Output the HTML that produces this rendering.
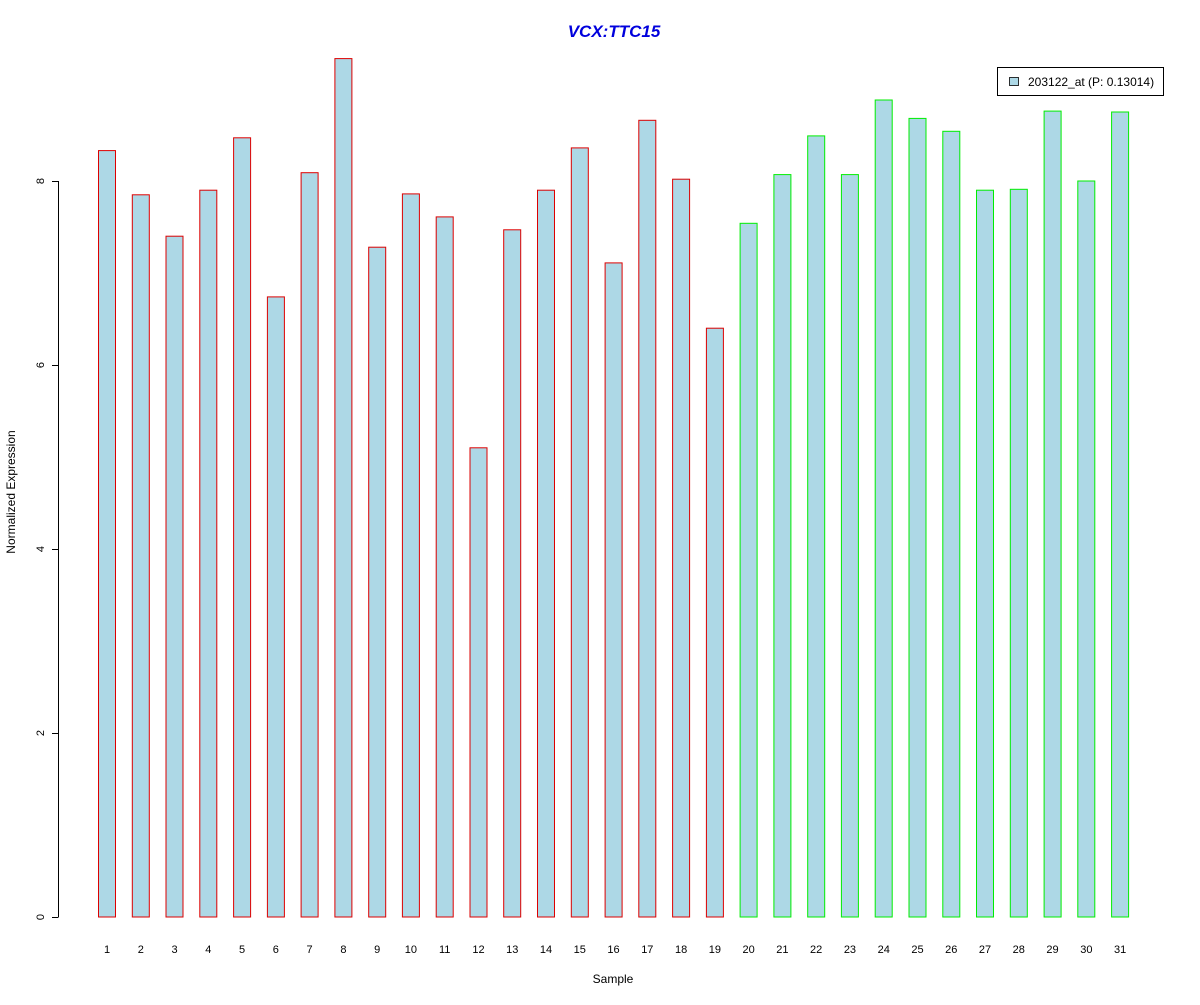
<!DOCTYPE html>
<html><head><meta charset="utf-8"><style>
body{margin:0;background:#fff}
svg text{font-family:"Liberation Sans",Arial,sans-serif}
</style></head><body>
<svg id="c" width="1200" height="1000" xmlns="http://www.w3.org/2000/svg">
<rect width="1200" height="1000" fill="#fff"/>
<text x="614" y="37" text-anchor="middle" font-size="17" font-weight="bold" font-style="italic" fill="#0000dd">VCX:TTC15</text>
<text x="613" y="983" text-anchor="middle" font-size="12">Sample</text>
<text transform="translate(15,492) rotate(-90)" text-anchor="middle" font-size="12">Normalized Expression</text>
<g id="bars"></g>
<g id="yaxis"></g>
<g id="xlabels"></g>
<g>
<rect x="997.5" y="67.5" width="166" height="28" fill="#fff" stroke="#000"/>
<rect x="1009.5" y="77.5" width="9" height="8" fill="#add8e6" stroke="#000" stroke-width="0.8"/>
<text x="1028" y="86" font-size="12">203122_at (P: 0.13014)</text>
</g>
</svg>
<script>
const samples=[1,2,3,4,5,6,7,8,9,10,11,12,13,14,15,16,17,18,19,20,21,22,23,24,25,26,27,28,29,30,31];
const values=[8.33,7.85,7.40,7.90,8.47,6.74,8.09,9.33,7.28,7.86,7.61,5.10,7.47,7.90,8.36,7.11,8.66,8.02,6.40,7.54,8.07,8.49,8.07,8.88,8.68,8.54,7.90,7.91,8.76,8.00,8.75];
const groups=[0,0,0,0,0,0,0,0,0,0,0,0,0,0,0,0,0,0,0,1,1,1,1,1,1,1,1,1,1,1,1];
const yTicks=[0,2,4,6,8];
const NS="http://www.w3.org/2000/svg";
const y=v=>917-v*92;
const x=i=>107+i*33.77;
const bars=document.getElementById('bars');
samples.forEach((s,i)=>{
 const r=document.createElementNS(NS,'rect');
 
 
 r.setAttribute('x',(x(i)-8.5).toFixed(1));
 r.setAttribute('y',y(values[i]).toFixed(1));
 r.setAttribute('width',17);
 r.setAttribute('height',(y(0)-y(values[i])).toFixed(1));
 r.setAttribute('fill','#add8e6');
 r.setAttribute('stroke',groups[i]?'#00ee00':'#dd0000');
 bars.appendChild(r);
 const t=document.createElementNS(NS,'text');
 
 
 t.setAttribute('x',x(i));t.setAttribute('y',953);
 t.setAttribute('text-anchor','middle');t.setAttribute('font-size','11');
 t.textContent=s;
 document.getElementById('xlabels').appendChild(t);
});
const ya=document.getElementById('yaxis');
const ax=document.createElementNS(NS,'line');


ax.setAttribute('x1',58.5);ax.setAttribute('x2',58.5);ax.setAttribute('y1',y(0));ax.setAttribute('y2',y(8));ax.setAttribute('stroke','#000');
ya.appendChild(ax);
yTicks.forEach(v=>{
 const l=document.createElementNS(NS,'line');
 
 
 l.setAttribute('x1',52);l.setAttribute('x2',58.5);l.setAttribute('y1',y(v)+0.5);l.setAttribute('y2',y(v)+0.5);l.setAttribute('stroke','#000');
 ya.appendChild(l);
 const t=document.createElementNS(NS,'text');
 
 
 t.setAttribute('transform','translate(44,'+y(v)+') rotate(-90)');
 t.setAttribute('text-anchor','middle');t.setAttribute('font-size','11');
 t.textContent=v;
 ya.appendChild(t);
});
</script>
</body></html>
